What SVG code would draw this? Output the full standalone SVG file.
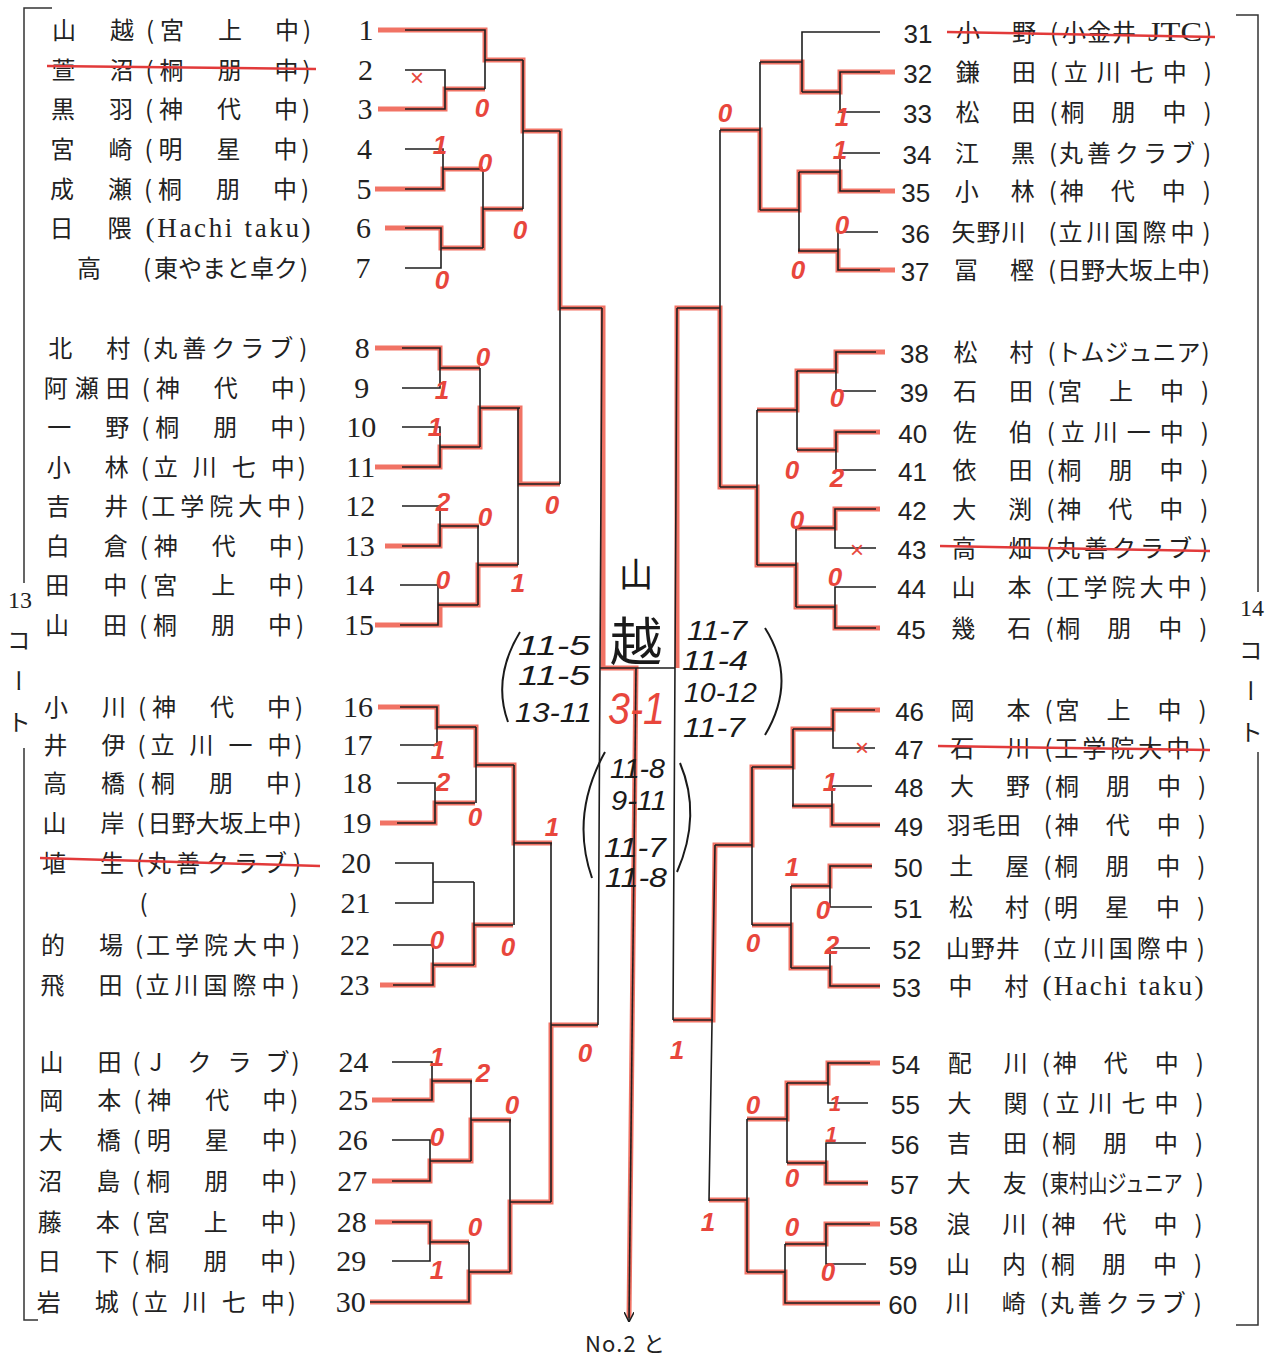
<svg xmlns="http://www.w3.org/2000/svg" width="1277" height="1360" viewBox="0 0 1277 1360">
<style>
.bk{fill:none;stroke:#1e1e1e;stroke-width:1.6}
.rd{fill:none;stroke:#ee5a4a;stroke-width:5;stroke-opacity:.85}
.st{fill:none;stroke:#e23a3a;stroke-width:2.5}
.bd{fill:none;stroke:#333;stroke-width:1.5}
.nm{font-family:"Noto Sans CJK JP","Noto Sans CJK SC",sans-serif;font-size:24px;fill:#222}
.nl{font-family:"Liberation Serif",serif;font-size:30px;fill:#222;text-anchor:middle}
.nr{font-family:"Liberation Sans",sans-serif;font-size:26px;fill:#222;text-anchor:middle}
.lat{font-family:"Liberation Serif",serif;font-size:27px;fill:#222}
.sc{font-family:"Liberation Sans",sans-serif;font-style:italic;font-weight:bold;font-size:26px;fill:#e8463c;text-anchor:middle}
.x{font-family:"Liberation Sans",sans-serif;font-size:24px;fill:#e8463c;text-anchor:middle}
.hw{font-family:"Liberation Sans",sans-serif;font-style:italic;font-size:28px;fill:#1a1a1a}
.hp{fill:none;stroke:#1a1a1a;stroke-width:2}
.side{font-family:"Liberation Serif",serif;font-size:24px;fill:#222;text-anchor:middle}
</style>
<defs>
<marker id="ar" viewBox="0 0 10 10" refX="10" refY="5" markerWidth="10" markerHeight="10" markerUnits="userSpaceOnUse" orient="auto">
<path d="M0,0L10,5L0,10" fill="none" stroke="#1e1e1e" stroke-width="1.5"/>
</marker>
</defs>
<rect width="1277" height="1360" fill="#fff"/>

<g id="borders">
<path class="bd" d="M52,8H24V583M24,748V1320H38"/>
<path class="bd" d="M1236,15H1258V592M1258,752V1325H1236"/>
<text class="side" x="20" y="608">13</text>
<text class="nm" x="19" y="628" writing-mode="vertical-rl" letter-spacing="17">コート</text>
<text class="side" x="1252" y="616">14</text>
<text class="nm" x="1251" y="638" writing-mode="vertical-rl" letter-spacing="17">コート</text>
</g>

<g id="connectors">
<path class="rd" d="M378,30H485V60H523V131H560V308H603V668H636L629,1318
M378,109H445V89H485M375,189H443V169H483M385,228H441V248H483V209H523
M375,348H440V368H480M375,467H440V447H480V408H520V484H560M385,546H440V526H479M375,625H440V605H478V565H518
M378,707H437V727H476V765H514V843H552M380,823H435V803H475M380,985H433V965H474V925H513
M372,1100H432V1081H472M372,1181H430V1161H471V1120H511M375,1222H430V1242H469M370,1302H469V1272H510V1202H551V1025H598
M895,72H840V92H802V62H760M895,191H840V172H799V210H760V130H720M895,270H838V251H798
M885,352H836V371H797V410H757M880,432H836V450H797M880,509H835V528H796M880,628H835V607H796V565H757V487H720V308H677V668
M880,710H833V729H793V767H752V845H715L713,1020H673M880,825H832V806H792M872,866H830V886H791M880,986H830V968H791V925H752
M880,1063H828V1083H787V1119H747M868,1183H826V1163H787M880,1224H826V1244H785M880,1303H785V1272H747V1200H709"/>
<path class="bk" d="M405,30H485V89M405,70H445V109H405M445,89H485M485,60H523M405,149H443V189H405M443,169H483M405,228H441V268H405M441,248H483M483,169V248M483,209H523M523,60V209M523,131H560
M402,348H440V388H402M440,368H480M402,427H440V467H402M440,447H480M480,368V447M480,408H520M402,506H440V546H402M440,526H479M400,585H438V625H400M438,605H478M478,526V605M478,565H518M518,408V565M518,484H560M560,131V484M560,308H602M602,308L598,1025
M400,707H437V745H400M437,727H476M397,783H435V823H397M435,803H475M476,727V803M476,765H514M395,863H433V903H395M433,882H474M393,945H433V985H393M433,965H474M474,882V965M474,925H513M514,765V925M514,843H552
M392,1062H432V1100H392M432,1081H472M392,1140H430V1181H392M430,1161H471M471,1081V1161M471,1120H511M392,1222H430V1261H392M430,1242H469M370,1302H469V1242M469,1272H510M510,1120V1272M510,1202H551M551,843V1202M551,1025H598
M600,668H675M677,308L673,1020M677,308H720M713,1020H673
M880,32H802V92M880,72H840V112H880M840,92H802M802,62H760M880,153H840V191H880M840,172H799M878,232H838V270H880M838,251H798M799,172V251M799,210H760M760,62V210M760,130H720M720,130V487
M876,352H836V391H876M836,371H797M876,432H836V470H876M836,450H797M797,371V450M797,410H757M876,509H835V548H876M835,528H796M876,587H835V628H876M835,607H796M796,528V607M796,565H757M757,410V565M757,487H720
M875,710H833V748H875M833,729H793M872,786H832V825H880M832,806H792M793,729V806M793,767H752M872,866H830V907H872M830,886H791M870,948H830V986H880M830,968H791M791,886V968M791,925H752M752,767V925M752,845H715M715,845L709,1201
M870,1063H828V1103H868M828,1083H787M866,1143H826V1183H868M826,1163H787M787,1083V1163M787,1119H747M870,1224H826V1264H866M826,1244H785M880,1303H785V1244M785,1272H747M747,1119V1272M747,1200H709"/>
<path class="bk" d="M636,668L629,1322" marker-end="url(#ar)"/>
</g>

<g id="left-players">
<g id="p1" transform="translate(0,30)"><text class="nl" x="366" y="10">1</text><text class="nm" x="52 110" y="9">山越</text><text class="nm" x="146 160 218 275 303" y="9">(宮上中)</text></g>
<g id="p2" transform="translate(-0.5,70)"><text class="nl" x="366" y="10">2</text><text class="nm" x="52 110" y="9">萱沼</text><text class="nm" x="146 160 218 275 303" y="9">(桐朋中)</text></g>
<g id="p3" transform="translate(-0.9,109)"><text class="nl" x="366" y="10">3</text><text class="nm" x="52 110" y="9">黒羽</text><text class="nm" x="146 160 218 275 303" y="9">(神代中)</text></g>
<g id="p4" transform="translate(-1.4,149)"><text class="nl" x="366" y="10">4</text><text class="nm" x="52 110" y="9">宮崎</text><text class="nm" x="146 160 218 275 303" y="9">(明星中)</text></g>
<g id="p5" transform="translate(-1.9,189)"><text class="nl" x="366" y="10">5</text><text class="nm" x="52 110" y="9">成瀬</text><text class="nm" x="146 160 218 275 303" y="9">(桐朋中)</text></g>
<g id="p6" transform="translate(-2.4,228)"><text class="nl" x="366" y="10">6</text><text class="nm" x="52 110" y="9">日隈</text><text class="lat" x="148" y="9" textLength="165" lengthAdjust="spacing">(Hachi taku)</text></g>
<g id="p7" transform="translate(-2.9,268)"><text class="nl" x="366" y="10">7</text><text class="nm" x="80" y="9">高</text><text class="nm" x="146 157 181 205 229 253 277 303" y="9">(東やまと卓ク)</text></g>
<g id="p8" transform="translate(-3.8,348)"><text class="nl" x="366" y="10">8</text><text class="nm" x="52 110" y="9">北村</text><text class="nm" x="146 157 186 215 244 273 303" y="9">(丸善クラブ)</text></g>
<g id="p9" transform="translate(-4.3,388)"><text class="nl" x="366" y="10">9</text><text class="nm" x="48 79 110" y="9">阿瀬田</text><text class="nm" x="146 160 218 275 303" y="9">(神代中)</text></g>
<g id="p10" transform="translate(-4.8,427)"><text class="nl" x="366" y="10">10</text><text class="nm" x="52 110" y="9">一野</text><text class="nm" x="146 160 218 275 303" y="9">(桐朋中)</text></g>
<g id="p11" transform="translate(-5.2,467)"><text class="nl" x="366" y="10">11</text><text class="nm" x="52 110" y="9">小林</text><text class="nm" x="146 159 198 237 276 303" y="9">(立川七中)</text></g>
<g id="p12" transform="translate(-5.7,506)"><text class="nl" x="366" y="10">12</text><text class="nm" x="52 110" y="9">吉井</text><text class="nm" x="146 157 186 215 244 273 303" y="9">(工学院大中)</text></g>
<g id="p13" transform="translate(-6.2,546)"><text class="nl" x="366" y="10">13</text><text class="nm" x="52 110" y="9">白倉</text><text class="nm" x="146 160 218 275 303" y="9">(神代中)</text></g>
<g id="p14" transform="translate(-6.7,585)"><text class="nl" x="366" y="10">14</text><text class="nm" x="52 110" y="9">田中</text><text class="nm" x="146 160 218 275 303" y="9">(宮上中)</text></g>
<g id="p15" transform="translate(-7.1,625)"><text class="nl" x="366" y="10">15</text><text class="nm" x="52 110" y="9">山田</text><text class="nm" x="146 160 218 275 303" y="9">(桐朋中)</text></g>
<g id="p16" transform="translate(-8.1,707)"><text class="nl" x="366" y="10">16</text><text class="nm" x="52 110" y="9">小川</text><text class="nm" x="146 160 218 275 303" y="9">(神代中)</text></g>
<g id="p17" transform="translate(-8.6,745)"><text class="nl" x="366" y="10">17</text><text class="nm" x="52 110" y="9">井伊</text><text class="nm" x="146 159 198 237 276 303" y="9">(立川一中)</text></g>
<g id="p18" transform="translate(-9,783)"><text class="nl" x="366" y="10">18</text><text class="nm" x="52 110" y="9">高橋</text><text class="nm" x="146 160 218 275 303" y="9">(桐朋中)</text></g>
<g id="p19" transform="translate(-9.5,823)"><text class="nl" x="366" y="10">19</text><text class="nm" x="52 110" y="9">山岸</text><text class="nm" x="146 157 181 205 229 253 277 303" y="9">(日野大坂上中)</text></g>
<g id="p20" transform="translate(-10,863)"><text class="nl" x="366" y="10">20</text><text class="nm" x="52 110" y="9">埴生</text><text class="nm" x="146 157 186 215 244 273 303" y="9">(丸善クラブ)</text></g>
<g id="p21" transform="translate(-10.5,903)"><text class="nl" x="366" y="10">21</text><text class="nm" x="150 300" y="9">()</text></g>
<g id="p22" transform="translate(-11,945)"><text class="nl" x="366" y="10">22</text><text class="nm" x="52 110" y="9">的場</text><text class="nm" x="146 157 186 215 244 273 303" y="9">(工学院大中)</text></g>
<g id="p23" transform="translate(-11.5,985)"><text class="nl" x="366" y="10">23</text><text class="nm" x="52 110" y="9">飛田</text><text class="nm" x="146 157 186 215 244 273 303" y="9">(立川国際中)</text></g>
<g id="p24" transform="translate(-12.4,1062)"><text class="nl" x="366" y="10">24</text><text class="nm" x="52 110" y="9">山田</text><text class="nm" x="145 162 200 240 278 304" y="9">(Jクラブ)</text></g>
<g id="p25" transform="translate(-12.8,1100)"><text class="nl" x="366" y="10">25</text><text class="nm" x="52 110" y="9">岡本</text><text class="nm" x="146 160 218 275 303" y="9">(神代中)</text></g>
<g id="p26" transform="translate(-13.3,1140)"><text class="nl" x="366" y="10">26</text><text class="nm" x="52 110" y="9">大橋</text><text class="nm" x="146 160 218 275 303" y="9">(明星中)</text></g>
<g id="p27" transform="translate(-13.8,1181)"><text class="nl" x="366" y="10">27</text><text class="nm" x="52 110" y="9">沼島</text><text class="nm" x="146 160 218 275 303" y="9">(桐朋中)</text></g>
<g id="p28" transform="translate(-14.3,1222)"><text class="nl" x="366" y="10">28</text><text class="nm" x="52 110" y="9">藤本</text><text class="nm" x="146 160 218 275 303" y="9">(宮上中)</text></g>
<g id="p29" transform="translate(-14.8,1261)"><text class="nl" x="366" y="10">29</text><text class="nm" x="52 110" y="9">日下</text><text class="nm" x="146 160 218 275 303" y="9">(桐朋中)</text></g>
<g id="p30" transform="translate(-15.3,1302)"><text class="nl" x="366" y="10">30</text><text class="nm" x="52 110" y="9">岩城</text><text class="nm" x="146 159 198 237 276 303" y="9">(立川七中)</text></g>
</g>

<g id="right-players">
<g id="p31" transform="translate(0,32)"><text class="nr" x="918" y="11">31</text><text class="nm" x="956 1012" y="9">小野</text><text class="nm" x="1050 1062 1087 1112" y="9">(小金井</text><text class="lat" x="1148" y="9" textLength="54" lengthAdjust="spacingAndGlyphs">JTC</text><text class="nm" x="1204" y="9">)</text></g>
<g id="p32" transform="translate(-0.3,72)"><text class="nr" x="918" y="11">32</text><text class="nm" x="956 1012" y="9">鎌田</text><text class="nm" x="1050 1064 1097 1130 1163 1204" y="9">(立川七中)</text></g>
<g id="p33" transform="translate(-0.6,112)"><text class="nr" x="918" y="11">33</text><text class="nm" x="956 1012" y="9">松田</text><text class="nm" x="1050 1061 1112 1163 1204" y="9">(桐朋中)</text></g>
<g id="p34" transform="translate(-1,153)"><text class="nr" x="918" y="11">34</text><text class="nm" x="956 1012" y="9">江黒</text><text class="nm" x="1050 1060 1088 1116 1144 1172 1204" y="9">(丸善クラブ)</text></g>
<g id="p35" transform="translate(-1.3,191)"><text class="nr" x="917" y="11">35</text><text class="nm" x="956 1012" y="9">小林</text><text class="nm" x="1050 1061 1112 1163 1204" y="9">(神代中)</text></g>
<g id="p36" transform="translate(-1.6,232)"><text class="nr" x="917" y="11">36</text><text class="nm" x="953 978 1003" y="9">矢野川</text><text class="nm" x="1050 1060 1088 1116 1144 1172 1204" y="9">(立川国際中)</text></g>
<g id="p37" transform="translate(-1.9,270)"><text class="nr" x="917" y="11">37</text><text class="nm" x="956 1012" y="9">冨樫</text><text class="nm" x="1050 1059 1083 1107 1131 1155 1179 1204" y="9">(日野大坂上中)</text></g>
<g id="p38" transform="translate(-2.6,352)"><text class="nr" x="917" y="11">38</text><text class="nm" x="956 1012" y="9">松村</text><text class="nm" x="1050 1059 1083 1107 1131 1155 1179 1204" y="9">(トムジュニア)</text></g>
<g id="p39" transform="translate(-2.9,391)"><text class="nr" x="917" y="11">39</text><text class="nm" x="956 1012" y="9">石田</text><text class="nm" x="1050 1061 1112 1163 1204" y="9">(宮上中)</text></g>
<g id="p40" transform="translate(-3.2,432)"><text class="nr" x="916" y="11">40</text><text class="nm" x="956 1012" y="9">佐伯</text><text class="nm" x="1050 1064 1097 1130 1163 1204" y="9">(立川一中)</text></g>
<g id="p41" transform="translate(-3.5,470)"><text class="nr" x="916" y="11">41</text><text class="nm" x="956 1012" y="9">依田</text><text class="nm" x="1050 1061 1112 1163 1204" y="9">(桐朋中)</text></g>
<g id="p42" transform="translate(-3.8,509)"><text class="nr" x="916" y="11">42</text><text class="nm" x="956 1012" y="9">大渕</text><text class="nm" x="1050 1061 1112 1163 1204" y="9">(神代中)</text></g>
<g id="p43" transform="translate(-4.1,548)"><text class="nr" x="916" y="11">43</text><text class="nm" x="956 1012" y="9">高畑</text><text class="nm" x="1050 1060 1088 1116 1144 1172 1204" y="9">(丸善クラブ)</text></g>
<g id="p44" transform="translate(-4.4,587)"><text class="nr" x="916" y="11">44</text><text class="nm" x="956 1012" y="9">山本</text><text class="nm" x="1050 1060 1088 1116 1144 1172 1204" y="9">(工学院大中)</text></g>
<g id="p45" transform="translate(-4.8,628)"><text class="nr" x="916" y="11">45</text><text class="nm" x="956 1012" y="9">幾石</text><text class="nm" x="1050 1061 1112 1163 1204" y="9">(桐朋中)</text></g>
<g id="p46" transform="translate(-5.4,710)"><text class="nr" x="915" y="11">46</text><text class="nm" x="956 1012" y="9">岡本</text><text class="nm" x="1050 1061 1112 1163 1204" y="9">(宮上中)</text></g>
<g id="p47" transform="translate(-5.7,748)"><text class="nr" x="915" y="11">47</text><text class="nm" x="956 1012" y="9">石川</text><text class="nm" x="1050 1060 1088 1116 1144 1172 1204" y="9">(工学院大中)</text></g>
<g id="p48" transform="translate(-6,786)"><text class="nr" x="915" y="11">48</text><text class="nm" x="956 1012" y="9">大野</text><text class="nm" x="1050 1061 1112 1163 1204" y="9">(桐朋中)</text></g>
<g id="p49" transform="translate(-6.3,825)"><text class="nr" x="915" y="11">49</text><text class="nm" x="953 978 1003" y="9">羽毛田</text><text class="nm" x="1050 1061 1112 1163 1204" y="9">(神代中)</text></g>
<g id="p50" transform="translate(-6.7,866)"><text class="nr" x="915" y="11">50</text><text class="nm" x="956 1012" y="9">土屋</text><text class="nm" x="1050 1061 1112 1163 1204" y="9">(桐朋中)</text></g>
<g id="p51" transform="translate(-7,907)"><text class="nr" x="915" y="11">51</text><text class="nm" x="956 1012" y="9">松村</text><text class="nm" x="1050 1061 1112 1163 1204" y="9">(明星中)</text></g>
<g id="p52" transform="translate(-7.3,948)"><text class="nr" x="914" y="11">52</text><text class="nm" x="953 978 1003" y="9">山野井</text><text class="nm" x="1050 1060 1088 1116 1144 1172 1204" y="9">(立川国際中)</text></g>
<g id="p53" transform="translate(-7.6,986)"><text class="nr" x="914" y="11">53</text><text class="nm" x="956 1012" y="9">中村</text><text class="lat" x="1050" y="9" textLength="161" lengthAdjust="spacing">(Hachi taku)</text></g>
<g id="p54" transform="translate(-8.2,1063)"><text class="nr" x="914" y="11">54</text><text class="nm" x="956 1012" y="9">配川</text><text class="nm" x="1050 1061 1112 1163 1204" y="9">(神代中)</text></g>
<g id="p55" transform="translate(-8.6,1103)"><text class="nr" x="914" y="11">55</text><text class="nm" x="956 1012" y="9">大関</text><text class="nm" x="1050 1064 1097 1130 1163 1204" y="9">(立川七中)</text></g>
<g id="p56" transform="translate(-8.9,1143)"><text class="nr" x="914" y="11">56</text><text class="nm" x="956 1012" y="9">吉田</text><text class="nm" x="1050 1061 1112 1163 1204" y="9">(桐朋中)</text></g>
<g id="p57" transform="translate(-9.2,1183)"><text class="nr" x="914" y="11">57</text><text class="nm" x="956 1012" y="9">大友</text><text class="nm" x="1050" y="9">(</text><text class="nm" transform="translate(1059,9) scale(0.8,1)" x="0" y="0">東村山ジュニア</text><text class="nm" x="1205" y="9">)</text></g>
<g id="p58" transform="translate(-9.5,1224)"><text class="nr" x="913" y="11">58</text><text class="nm" x="956 1012" y="9">浪川</text><text class="nm" x="1050 1061 1112 1163 1204" y="9">(神代中)</text></g>
<g id="p59" transform="translate(-9.9,1264)"><text class="nr" x="913" y="11">59</text><text class="nm" x="956 1012" y="9">山内</text><text class="nm" x="1050 1061 1112 1163 1204" y="9">(桐朋中)</text></g>
<g id="p60" transform="translate(-10.2,1303)"><text class="nr" x="913" y="11">60</text><text class="nm" x="956 1012" y="9">川崎</text><text class="nm" x="1050 1060 1088 1116 1144 1172 1204" y="9">(丸善クラブ)</text></g>
</g>

<g id="strikes">
<path class="st" d="M47,66L316,69M40,858L320,866M947,32L1215,37M940,546L1210,551M938,746L1210,750"/>
</g>

<g id="scores">
<text class="x" x="417" y="86">×</text>
<text class="sc" x="482" y="117">0</text><text class="sc" x="440" y="154">1</text><text class="sc" x="485" y="172">0</text><text class="sc" x="520" y="239">0</text><text class="sc" x="442" y="289">0</text>
<text class="sc" x="483" y="366">0</text><text class="sc" x="442" y="399">1</text><text class="sc" x="435" y="436">1</text><text class="sc" x="443" y="511">2</text><text class="sc" x="485" y="526">0</text><text class="sc" x="552" y="514">0</text><text class="sc" x="443" y="589">0</text><text class="sc" x="518" y="592">1</text>
<text class="sc" x="438" y="759">1</text><text class="sc" x="443" y="791">2</text><text class="sc" x="475" y="826">0</text><text class="sc" x="552" y="836">1</text><text class="sc" x="437" y="949">0</text><text class="sc" x="508" y="956">0</text>
<text class="sc" x="437" y="1066">1</text><text class="sc" x="483" y="1082">2</text><text class="sc" x="512" y="1114">0</text><text class="sc" x="437" y="1146">0</text><text class="sc" x="475" y="1236">0</text><text class="sc" x="437" y="1279">1</text><text class="sc" x="585" y="1062">0</text>
<text class="sc" x="677" y="1059">1</text>
<text class="sc" x="725" y="122">0</text><text class="sc" x="842" y="126">1</text><text class="sc" x="840" y="159">1</text><text class="sc" x="842" y="234">0</text><text class="sc" x="798" y="279">0</text>
<text class="sc" x="837" y="407">0</text><text class="sc" x="792" y="479">0</text><text class="sc" x="837" y="487">2</text><text class="sc" x="797" y="529">0</text><text class="x" x="857" y="558">×</text><text class="sc" x="835" y="586">0</text>
<text class="x" x="862" y="756">×</text><text class="sc" x="830" y="791">1</text><text class="sc" x="792" y="876">1</text><text class="sc" x="823" y="919">0</text><text class="sc" x="753" y="952">0</text><text class="sc" x="832" y="954">2</text>
<text class="sc" x="753" y="1114">0</text><text class="sc" x="835" y="1111" style="font-size:22px">1</text><text class="sc" x="831" y="1142" style="font-size:22px">1</text><text class="sc" x="792" y="1187">0</text><text class="sc" x="708" y="1231">1</text><text class="sc" x="792" y="1236">0</text><text class="sc" x="828" y="1281">0</text>
</g>

<g id="final">
<text class="nm" x="619" y="587" style="font-size:34px;fill:#1a1a1a">山</text>
<text class="nm" x="610" y="661" style="font-size:52px;fill:#1a1a1a">越</text>
<text class="sc" x="608" y="724" textLength="57" lengthAdjust="spacingAndGlyphs" style="font-size:44px;font-weight:normal;text-anchor:start">3-1</text>
<text class="hw" x="518" y="655" textLength="72" lengthAdjust="spacingAndGlyphs">11-5</text>
<text class="hw" x="518" y="685" textLength="72" lengthAdjust="spacingAndGlyphs">11-5</text>
<text class="hw" x="515" y="722" textLength="77" lengthAdjust="spacingAndGlyphs">13-11</text>
<path class="hp" d="M520,632Q492,678 508,722"/>
<text class="hw" x="687" y="640" textLength="60" lengthAdjust="spacingAndGlyphs">11-7</text>
<text class="hw" x="682" y="670" textLength="66" lengthAdjust="spacingAndGlyphs">11-4</text>
<text class="hw" x="684" y="702" textLength="73" lengthAdjust="spacingAndGlyphs">10-12</text>
<text class="hw" x="683" y="737" textLength="62" lengthAdjust="spacingAndGlyphs">11-7</text>
<path class="hp" d="M765,628Q798,680 765,735"/>
<text class="hw" x="610" y="778" textLength="55" lengthAdjust="spacingAndGlyphs">11-8</text>
<text class="hw" x="611" y="810" textLength="56" lengthAdjust="spacingAndGlyphs">9-11</text>
<text class="hw" x="604" y="857" textLength="62" lengthAdjust="spacingAndGlyphs">11-7</text>
<text class="hw" x="605" y="887" textLength="62" lengthAdjust="spacingAndGlyphs">11-8</text>
<path class="hp" d="M605,752Q570,815 592,878"/>
<path class="hp" d="M680,763Q702,815 677,872"/>
<text class="nm" x="585" y="1352" textLength="80" lengthAdjust="spacing" style="font-size:22px">No.2 と</text>
</g>
</svg>
